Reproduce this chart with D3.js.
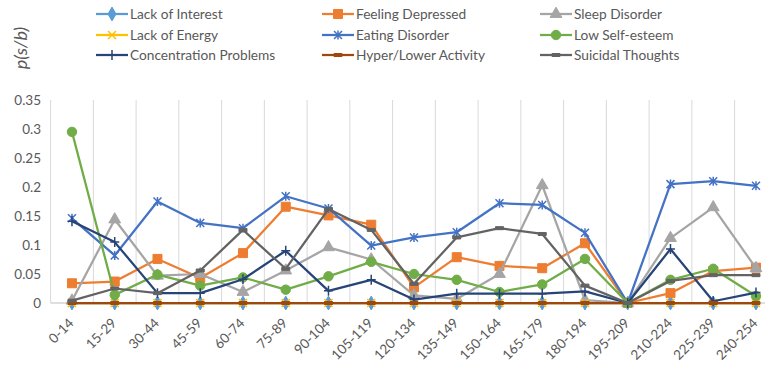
<!DOCTYPE html>
<html>
<head>
  <style>
    body, html { margin: 0; padding: 0; background: #fff; }
    svg { display: block; font-family: Lato, "Open Sans", sans-serif; }
  </style>
</head>
<body>
  <svg id="svg" width="765" height="371"></svg>
  <script src="https://d3js.org/d3.v7.min.js"></script>
  <script>
    const categories = ["0-14", "15-29", "30-44", "45-59", "60-74", "75-89", "90-104", "105-119", "120-134",
      "135-149", "150-164", "165-179", "180-194", "195-209", "210-224", "225-239", "240-254"]
    const yTicks = [0, 0.05, 0.1, 0.15, 0.2, 0.25, 0.3, 0.35]

    const lackOfInterest = [0, 0, 0, 0, 0, 0, 0, 0, 0, 0, 0, 0, 0, 0, 0, 0, 0]
    const feelingDepressed = [0.034, 0.037, 0.076, 0.043, 0.086, 0.166, 0.151, 0.135, 0.027, 0.079, 0.064, 0.060, 0.103, 0, 0.017, 0.055, 0.061]
    const sleepDisorder = [0.004, 0.144, 0.047, 0.050, 0.019, 0.056, 0.096, 0.075, 0.013, 0.007, 0.050, 0.203, 0.005, 0, 0.112, 0.165, 0.060]
    const lackOfEnergy = [0, 0, 0, 0, 0, 0, 0, 0, 0, 0, 0, 0, 0, 0, 0, 0, 0]
    const eatingDisorder = [0.146, 0.082, 0.175, 0.138, 0.129, 0.184, 0.163, 0.099, 0.113, 0.122, 0.172, 0.169, 0.121, 0, 0.205, 0.210, 0.202]
    const lowSelfEsteem = [0.295, 0.014, 0.049, 0.030, 0.044, 0.023, 0.046, 0.071, 0.050, 0.040, 0.019, 0.032, 0.076, 0, 0.040, 0.059, 0.012]
    const concentration = [0.141, 0.105, 0.017, 0.017, 0.041, 0.090, 0.021, 0.040, 0.006, 0.016, 0.016, 0.016, 0.020, 0, 0.093, 0.003, 0.018]
    const hyperLower = [0, 0, 0, 0, 0, 0, 0, 0, 0, 0, 0, 0, 0, 0, 0, 0, 0]
    const suicidal = [0.004, 0.025, 0.017, 0.056, 0.126, 0.059, 0.162, 0.126, 0.033, 0.113, 0.129, 0.119, 0.030, 0, 0.038, 0.048, 0.048]

    const series = [
      { name: "Lack of Interest", values: lackOfInterest, color: "#5B9BD5", marker: "diamond" },
      { name: "Feeling Depressed", values: feelingDepressed, color: "#ED7D31", marker: "square" },
      { name: "Sleep Disorder", values: sleepDisorder, color: "#A5A5A5", marker: "triangle" },
      { name: "Lack of Energy", values: lackOfEnergy, color: "#FFC000", marker: "x" },
      { name: "Eating Disorder", values: eatingDisorder, color: "#4472C4", marker: "star" },
      { name: "Low Self-esteem", values: lowSelfEsteem, color: "#70AD47", marker: "circle" },
      { name: "Concentration Problems", values: concentration, color: "#264478", marker: "plus" },
      { name: "Hyper/Lower Activity", values: hyperLower, color: "#9E480E", marker: "dash" },
      { name: "Suicidal Thoughts", values: suicidal, color: "#636363", marker: "dash" }
    ]

    const svg = d3.select("#svg")
    const plotLeft = 50.6
    const step = 42.75
    const plotTop = 100
    const plotBottom = 303

    const xScale = d3.scaleBand()
      .domain(categories)
      .range([plotLeft, plotLeft + step * categories.length])
      .padding(0)
    const xc = c => xScale(c) + xScale.bandwidth() / 2

    const yScale = d3.scaleLinear()
      .domain([0, 0.35])
      .range([plotBottom, plotTop])

    // vertical gridlines at category boundaries
    const bounds = categories.map(c => xScale(c)).concat([xScale.range()[1]])
    svg.append("g")
      .selectAll("line")
      .data(bounds)
      .join("line")
      .attr("x1", d => d).attr("x2", d => d)
      .attr("y1", plotTop).attr("y2", plotBottom)
      .attr("stroke", "#D9D9D9")
      .attr("stroke-width", 1)

    // axis line
    svg.append("line")
      .attr("x1", plotLeft).attr("x2", xScale.range()[1])
      .attr("y1", plotBottom).attr("y2", plotBottom)
      .attr("stroke", "#BFBFBF")

    // y tick labels
    const leftAxis = d3.axisLeft(yScale).tickValues(yTicks).tickSize(0).tickPadding(0).tickFormat(d => d3.format("")(d))
    const yAxisG = svg.append("g")
      .attr("transform", `translate(41, 0)`)
      .call(leftAxis)
    yAxisG.select(".domain").remove()
    yAxisG.selectAll("text")
      .attr("fill", "#595959")
      .attr("font-size", 13.5)
      .attr("font-family", "Lato, sans-serif")

    // x tick labels
    svg.append("g")
      .selectAll("text")
      .data(categories)
      .join("text")
      .attr("transform", d => `translate(${xc(d) + 2.5}, 324) rotate(-45)`)
      .attr("text-anchor", "end")
      .attr("fill", "#595959")
      .attr("font-size", 13.5)
      .text(d => d)

    function markerPath(type) {
      switch (type) {
        case "diamond": return d3.symbol(d3.symbolDiamond, 55)()
        case "square": return "M-4.5,-4.5H4.5V4.5H-4.5Z"
        case "triangle": return d3.symbol(d3.symbolTriangle, 60)()
        case "x": return "M-4,-4L4,4M-4,4L4,-4"
        case "star": return "M-4,-4L4,4M-4,4L4,-4M0,-4.5L0,4.5"
        case "circle": return d3.symbol(d3.symbolCircle, 70)()
        case "plus": return "M-4.5,0H4.5M0,-5V5"
        case "dash": return "M-4,-1.5H4V1.5H-4Z"
      }
    }
    const strokeOnly = ["x", "star", "plus"]

    const lineGen = d3.line()
      .x((d, i) => xc(categories[i]))
      .y(d => yScale(d))

    const plot = svg.append("g")
    series.forEach(s => {
      const g = plot.append("g")
      g.append("path")
        .attr("d", lineGen(s.values))
        .attr("fill", "none")
        .attr("stroke", s.color)
        .attr("stroke-width", 2.25)
        .attr("stroke-linejoin", "round")
      g.selectAll("path.mk")
        .data(s.values)
        .join("path")
        .attr("class", "mk")
        .attr("transform", (d, i) => `translate(${xc(categories[i])}, ${yScale(d)})`)
        .attr("d", markerPath(s.marker))
        .attr("fill", strokeOnly.includes(s.marker) ? "none" : s.color)
        .attr("stroke", s.color)
        .attr("stroke-width", strokeOnly.includes(s.marker) ? 1.5 : 1)
    })

    // legend
    const legendCols = [96, 322, 540]
    const legendRows = [14, 35, 55]
    const legend = svg.append("g")
    series.forEach((s, i) => {
      const lx = legendCols[i % 3]
      const ly = legendRows[Math.floor(i / 3)]
      const g = legend.append("g").attr("transform", `translate(${lx}, ${ly})`)
      g.append("line")
        .attr("x1", 0).attr("x2", 32)
        .attr("stroke", s.color)
        .attr("stroke-width", 2.25)
      g.append("path")
        .attr("transform", "translate(16, 0)")
        .attr("d", markerPath(s.marker))
        .attr("fill", strokeOnly.includes(s.marker) ? "none" : s.color)
        .attr("stroke", s.color)
        .attr("stroke-width", strokeOnly.includes(s.marker) ? 1.5 : 1)
      g.append("text")
        .attr("x", 34)
        .attr("dy", "0.35em")
        .attr("fill", "#595959")
        .attr("font-size", 13.7)
        .text(s.name)
    })

    // y axis title
    svg.append("text")
      .attr("transform", "translate(27, 48) rotate(-90)")
      .attr("text-anchor", "middle")
      .attr("fill", "#595959")
      .attr("font-size", 18)
      .attr("font-style", "italic")
      .text("p(s/b)")
  </script>
</body>
</html>
